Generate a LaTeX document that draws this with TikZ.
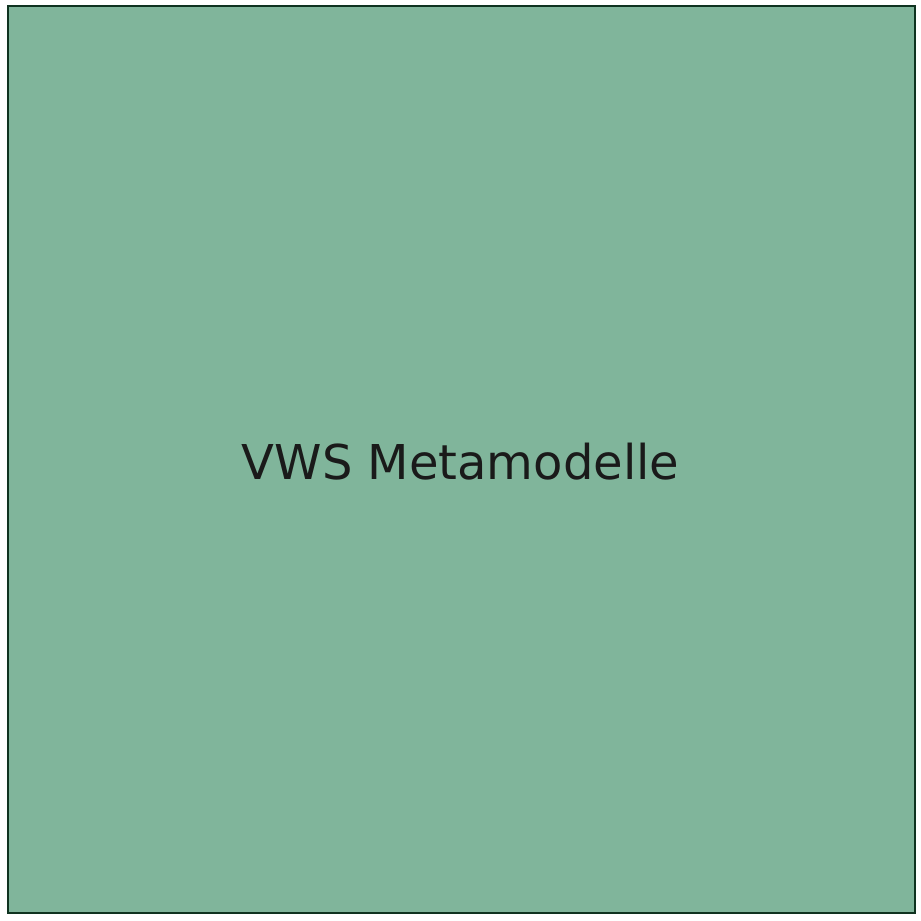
\documentclass[tikz,border=0pt]{standalone}
\usepackage{fontspec}
\setmainfont{DejaVu Sans}
\definecolor{boxfill}{HTML}{80B59B}
\definecolor{boxline}{HTML}{0F3320}
\definecolor{txt}{HTML}{1A1A1A}
\begin{document}
\begin{tikzpicture}[x=1pt,y=-1pt,
  mainbox/.style={draw=boxline,fill=boxfill,line width=2pt,minimum width=907pt,minimum height=907pt,inner sep=0pt},
  lbl/.style={text=txt,font=\fontsize{48}{56}\selectfont}]
\useasboundingbox (0,0) rectangle (921,921);
\node[mainbox] (box) at (461.5,459.5) {};
\node[lbl,anchor=base] (t) at (460.5,479) {VWS Metamodelle};
\end{tikzpicture}
\end{document}
